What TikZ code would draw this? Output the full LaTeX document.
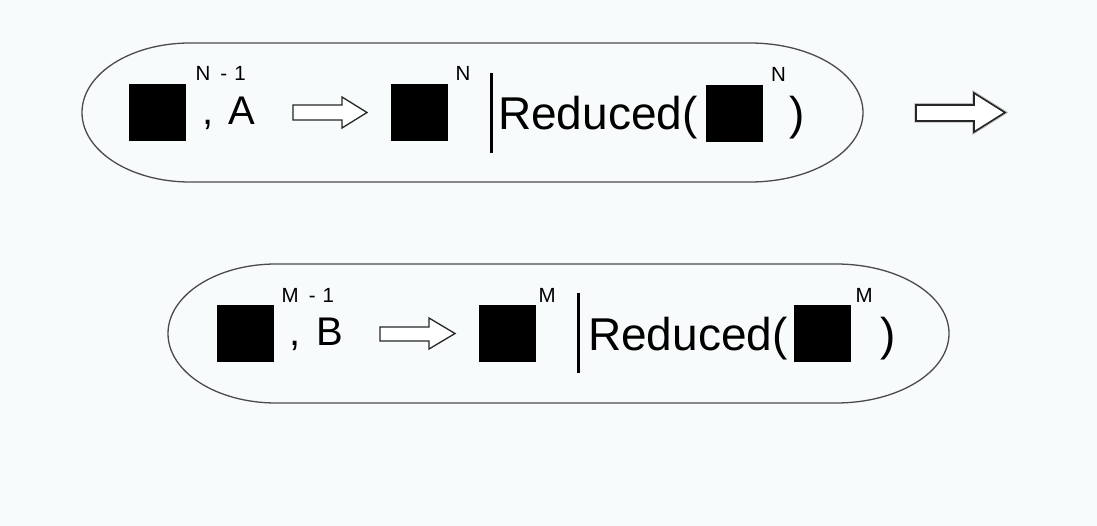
\documentclass[tikz,border=0pt]{standalone}
\usepackage{fontspec}
\setmainfont{Liberation Sans}
\usetikzlibrary{positioning}
\definecolor{slidebg}{RGB}{248,251,251}
\definecolor{rim}{RGB}{75,75,75}

\begin{document}
\begin{tikzpicture}[x=1pt,y=-1pt,
  blk/.style={fill=black,minimum size=57pt,inner sep=0pt},
  sup/.style={anchor=base west,inner sep=0pt,font=\fontsize{20.5}{20.5}\selectfont},
  sym/.style={anchor=base west,inner sep=0pt,font=\fontsize{40}{40}\selectfont},
  word/.style={anchor=base west,inner sep=0pt,font=\fontsize{46}{46}\selectfont},
  capsule/.style={draw=rim,line width=1.3pt},
  hollow/.style={draw=black!85,fill=white,line width=1.3pt,line join=miter}]
  \fill[slidebg] (0,0) rectangle (1097,526);
  \useasboundingbox (0,0) rectangle (1097,526);
% top row
  \draw[capsule] (190,43) -- (750,43) arc[start angle=-90,end angle=90,x radius=113,y radius=69.5]
     -- (190,182) arc[start angle=90,end angle=270,x radius=108,y radius=69.5] -- cycle;
  \node[blk] (sqa) at (157,113) {};
  \node[sup] (supa) at (195.5,81) {N\hspace{10pt}-\hspace{7pt}1};
  \node[sym] (lita) at (202.5,125) {,\hspace{4pt} A};
  \draw[hollow] (293,105) -- (342,105) -- (342,97) -- (367,112.5) -- (342,128) -- (342,120) -- (293,120) -- cycle;
  \node[blk] (sqb) at (419.5,113) {};
  \node[sup] (supb) at (455.5,81) {N};
  \draw[line width=3pt] (491.5,73) -- (491.5,153);
  \node[word] (reda) at (498,130) {Reduced(};
  \node[blk] (sqc) at (734,114) {};
  \node[sup] (supc) at (771,82) {N};
  \node[word] (clsa) at (789,130) {)};
% arrow to the right
  \draw[black!25,line width=3.5pt,line join=miter] (916,105) -- (974,105) -- (974,93) -- (1005,112.5) -- (974,132) -- (974,121) -- (916,121) -- cycle;
  \draw[hollow,line width=1.6pt] (916,105) -- (974,105) -- (974,93) -- (1005,112.5) -- (974,132) -- (974,121) -- (916,121) -- cycle;
% bottom row
  \draw[capsule] (276,264) -- (836,264) arc[start angle=-90,end angle=90,x radius=113,y radius=69.5]
     -- (276,403) arc[start angle=90,end angle=270,x radius=108,y radius=69.5] -- cycle;
  \node[blk] (sqd) at (245.5,333.5) {};
  \node[sup] (supd) at (281.5,303) {M\hspace{10pt}-\hspace{7pt}1};
  \node[sym] (litb) at (289.5,345) {,\hspace{4.5pt} B};
  \draw[hollow] (380,327) -- (429,327) -- (429,318) -- (455,333.5) -- (429,349) -- (429,341) -- (380,341) -- cycle;
  \node[blk] (sqe) at (507.5,333.5) {};
  \node[sup] (supe) at (538.5,303) {M};
  \draw[line width=3pt] (578.5,293) -- (578.5,373);
  \node[word] (redb) at (588,350) {Reduced(};
  \node[blk] (sqf) at (822.5,333.5) {};
  \node[sup] (supf) at (855.5,303) {M};
  \node[word] (clsb) at (880,350) {)};
\end{tikzpicture}
\end{document}
